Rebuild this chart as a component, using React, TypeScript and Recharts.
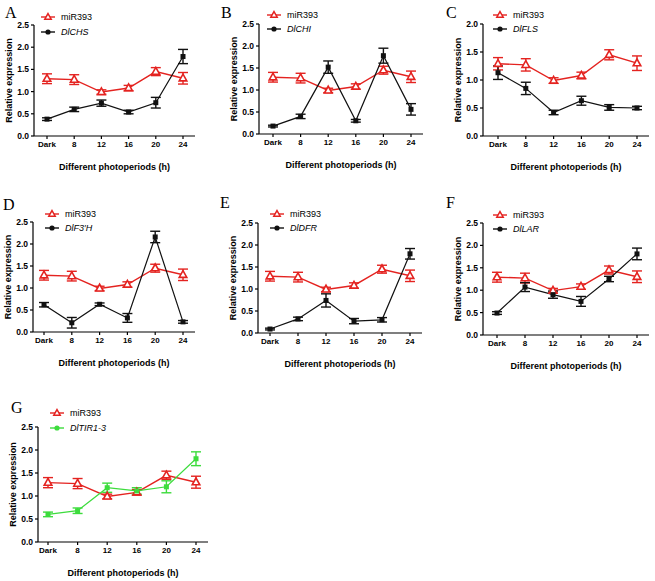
import React from 'react';
import { LineChart, Line, XAxis, YAxis, ErrorBar, Legend } from 'recharts';

// categories on the x axis (hours of light)
const categories = ['Dark', '8', '12', '16', '20', '24'];

// miR393 is the same reference series in every panel
const mir393 = [1.29, 1.27, 0.99, 1.08, 1.45, 1.3];
const mir393Err = [0.11, 0.11, 0.05, 0.06, 0.09, 0.13];

const dichs = [0.38, 0.6, 0.74, 0.54, 0.75, 1.79];
const dichsErr = [0.03, 0.05, 0.07, 0.04, 0.12, 0.16];
const dichi = [0.18, 0.4, 1.52, 0.3, 1.78, 0.56];
const dichiErr = [0.02, 0.05, 0.14, 0.03, 0.17, 0.13];
const difls = [1.13, 0.85, 0.42, 0.63, 0.51, 0.5];
const diflsErr = [0.12, 0.11, 0.04, 0.08, 0.05, 0.03];
const dif3h = [0.62, 0.21, 0.63, 0.32, 2.16, 0.23];
const dif3hErr = [0.05, 0.12, 0.03, 0.1, 0.13, 0.03];
const didfr = [0.09, 0.32, 0.74, 0.27, 0.3, 1.8];
const didfrErr = [0.02, 0.04, 0.15, 0.06, 0.05, 0.12];
const dilar = [0.49, 1.07, 0.9, 0.75, 1.25, 1.81];
const dilarErr = [0.03, 0.1, 0.08, 0.11, 0.06, 0.13];
const ditir = [0.6, 0.68, 1.18, 1.11, 1.2, 1.81];
const ditirErr = [0.05, 0.06, 0.1, 0.07, 0.13, 0.15];

const ticks25 = [0, 0.5, 1, 1.5, 2, 2.5];
const ticks20 = [0, 0.5, 1, 1.5, 2];

const RED = '#e42320';
const BLACK = '#111111';
const GREEN = '#3ddc3d';
const SANS = '"Liberation Sans", Arial, sans-serif';
const SERIF = '"Liberation Serif", "Times New Roman", serif';

const triDot = (color: string) => (p: any) => {
  const { cx, cy, index } = p;
  if (cx == null || cy == null) return <g key={`t${index}`} />;
  return (
    <path
      key={`t${index}`}
      d={`M${cx},${cy - 4.2}L${cx + 3.8},${cy + 2.6}L${cx - 3.8},${cy + 2.6}Z`}
      fill="#fff"
      stroke={color}
      strokeWidth={1.6}
    />
  );
};

const squareDot = (color: string) => (p: any) => {
  const { cx, cy, index } = p;
  if (cx == null || cy == null) return <g key={`s${index}`} />;
  return <rect key={`s${index}`} x={cx - 2.5} y={cy - 2.5} width={5} height={5} fill={color} />;
};

const YTitle = (props: any) => {
  const { viewBox } = props;
  const x = viewBox.x + 2;
  const y = viewBox.y + viewBox.height / 2;
  return (
    <text
      x={x}
      y={y}
      transform={`rotate(-90 ${x} ${y})`}
      textAnchor="middle"
      dominantBaseline="central"
      fontFamily={SANS}
      fontWeight="bold"
      fontSize={9}
      fill="#000"
    >
      Relative expression
    </text>
  );
};

const LegendRows = ({ gene, color, gap }: { gene: string; color: string; gap: number }) => {
  const row = { display: 'flex', alignItems: 'center', height: gap };
  return (
    <div style={{ fontFamily: SANS, fontSize: 9, color: '#000' }}>
      <div style={row}>
        <svg width={16} height={14}>
          <line x1={1} y1={7} x2={15} y2={7} stroke={RED} strokeWidth={1.4} />
          <path d="M8,3.6L11.2,9.2L4.8,9.2Z" fill="#fff" stroke={RED} strokeWidth={1.5} />
        </svg>
        <span style={{ marginLeft: 5 }}>miR393</span>
      </div>
      <div style={row}>
        <svg width={16} height={14}>
          <line x1={1} y1={7} x2={15} y2={7} stroke={color} strokeWidth={1.4} />
          <circle cx={8} cy={7} r={2.6} fill={color} />
        </svg>
        <span style={{ marginLeft: 5, fontStyle: 'italic' }}>{gene}</span>
      </div>
    </div>
  );
};

type PanelProps = {
  letter: string;
  gene: string;
  mean: number[];
  err: number[];
  color: string;
  yMax: number;
  axisX: number;
  top: number;
  bottom: number;
  first: number;
  last: number;
  letterX: number;
  letterY: number;
  legX: number;
  legY: number;
  legGap: number;
};

const Panel = (p: PanelProps) => {
  const left = p.axisX - 35;
  const chartTop = p.top - 25;
  const end = p.last + 12;
  const width = end - p.axisX + 35 + 4;
  const height = p.bottom - p.top + 25 + 40;
  const data = categories.map((c, i) => ({
    cat: c,
    mir: mir393[i],
    mirErr: mir393Err[i],
    gene: p.mean[i],
    geneErr: p.err[i],
  }));
  return (
    <>
      <div
        style={{
          position: 'absolute',
          left: p.letterX,
          top: p.letterY - 13,
          fontFamily: SERIF,
          fontSize: 16,
          lineHeight: '16px',
          color: '#000',
        }}
      >
        {p.letter}
      </div>
      <div style={{ position: 'absolute', left, top: chartTop }}>
        <LineChart width={width} height={height} data={data} margin={{ top: 25, left: 8, right: 4, bottom: 6 }}>
          <XAxis
            dataKey="cat"
            interval={0}
            padding={{ left: p.first - p.axisX, right: 12 }}
            tickSize={3}
            tickMargin={2}
            height={34}
            axisLine={{ stroke: '#000', strokeWidth: 1.2 }}
            tickLine={{ stroke: '#000', strokeWidth: 1.2 }}
            tick={{ fontFamily: SANS, fontWeight: 'bold', fontSize: 8, fill: '#000' }}
            label={{
              value: 'Different photoperiods (h)',
              position: 'insideBottom',
              offset: 0,
              style: { fontFamily: SANS, fontWeight: 'bold', fontSize: 9, fill: '#000' },
            }}
          />
          <YAxis
            width={27}
            domain={[0, p.yMax]}
            ticks={p.yMax === 2 ? ticks20 : ticks25}
            tickFormatter={(v: number) => v.toFixed(1)}
            tickSize={3}
            tickMargin={2}
            axisLine={{ stroke: '#000', strokeWidth: 1.2 }}
            tickLine={{ stroke: '#000', strokeWidth: 1.2 }}
            tick={{ fontFamily: SANS, fontWeight: 'bold', fontSize: 8.5, fill: '#000' }}
            label={<YTitle />}
          />
          <Legend
            layout="horizontal"
            verticalAlign="middle"
            align="center"
            content={() => <LegendRows gene={p.gene} color={p.color} gap={p.legGap} />}
            wrapperStyle={{ left: p.legX - left - 8, top: p.legY - chartTop - p.legGap / 2, width: 90 }}
          />
          <Line
            dataKey="mir"
            stroke={RED}
            strokeWidth={1.4}
            dot={triDot(RED)}
            activeDot={false}
            isAnimationActive={false}
          >
            <ErrorBar dataKey="mirErr" width={5} stroke={RED} strokeWidth={1.4} direction="y" />
          </Line>
          <Line
            dataKey="gene"
            stroke={p.color}
            strokeWidth={1.2}
            dot={squareDot(p.color)}
            activeDot={false}
            isAnimationActive={false}
          >
            <ErrorBar dataKey="geneErr" width={5} stroke={p.color} strokeWidth={1.4} direction="y" />
          </Line>
        </LineChart>
      </div>
    </>
  );
};

export default function App() {
  return (
    <div style={{ position: 'absolute', left: 0, top: 0, width: 655, height: 581, background: '#fff' }}>
      <Panel letter="A" gene="DlCHS" mean={dichs} err={dichsErr} color={BLACK} yMax={2.5}
        axisX={34} top={25} bottom={136} first={47} last={183}
        letterX={5} letterY={18} legX={48} legY={17} legGap={15} />
      <Panel letter="B" gene="DlCHI" mean={dichi} err={dichiErr} color={BLACK} yMax={2.5}
        axisX={259} top={24} bottom={134} first={273} last={411}
        letterX={221} letterY={18} legX={274} legY={15} legGap={14} />
      <Panel letter="C" gene="DlFLS" mean={difls} err={diflsErr} color={BLACK} yMax={2}
        axisX={483} top={24} bottom={136} first={498} last={637}
        letterX={446} letterY={18} legX={500} legY={15} legGap={14} />
      <Panel letter="D" gene="DlF3′H" mean={dif3h} err={dif3hErr} color={BLACK} yMax={2.5}
        axisX={33} top={222} bottom={332} first={44} last={183}
        letterX={3} letterY={210} legX={52} legY={214} legGap={14} />
      <Panel letter="E" gene="DlDFR" mean={didfr} err={didfrErr} color={BLACK} yMax={2.5}
        axisX={258} top={223} bottom={333} first={270} last={410}
        letterX={220} letterY={208} legX={277} legY={214} legGap={14} />
      <Panel letter="F" gene="DlLAR" mean={dilar} err={dilarErr} color={BLACK} yMax={2.5}
        axisX={483} top={223} bottom={335} first={497} last={637}
        letterX={446} letterY={208} legX={500} legY={215} legGap={14} />
      <Panel letter="G" gene="DlTIR1-3" mean={ditir} err={ditirErr} color={GREEN} yMax={2.5}
        axisX={38} top={427} bottom={542} first={48} last={196}
        letterX={11} letterY={413} legX={57} legY={413} legGap={15} />
    </div>
  );
}
